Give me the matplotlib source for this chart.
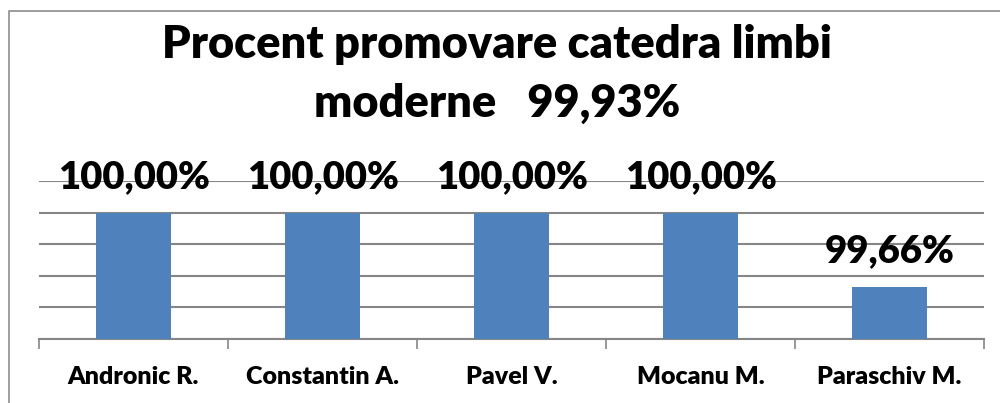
import matplotlib.pyplot as plt
from matplotlib.lines import Line2D

# data
teachers = ['Andronic R.', 'Constantin A.', 'Pavel V.', 'Mocanu M.', 'Paraschiv M.']
percent = [100.00, 100.00, 100.00, 100.00, 99.66]
title_lines = ['Procent promovare catedra limbi', 'moderne   99,93%']

plt.rcParams['font.family'] = ['Lato', 'DejaVu Sans']

dpi = 100
fig = plt.figure(figsize=(1000/dpi, 403/dpi), dpi=dpi)
ax = fig.add_axes([0.039, 0.1596, 0.945, 0.391])

# outer chart frame (only left and top edges visible in the crop)
fig.lines.append(Line2D([0.009, 0.009, 1.0], [0.0, 1 - 11/403, 1 - 11/403],
                        transform=fig.transFigure, color='#8c8c8c', linewidth=1.2))

x = list(range(len(teachers)))
ax.bar(x, percent, width=0.4, color='#4f81bd', zorder=3)

step = 0.145
ax.set_ylim(100 - 4*step, 100 + step)
ax.set_xlim(-0.5, len(teachers) - 0.5)
ax.set_yticks([100 - i*step for i in range(-1, 5)])
ax.yaxis.grid(True, color='#868686', linewidth=1.5, zorder=0)
ax.tick_params(axis='y', length=0, labelleft=False)

ax.set_xticks(x)
ax.set_xticklabels(teachers, fontsize=18, fontweight='heavy')
ax.tick_params(axis='x', which='major', length=0, pad=20)
ax.set_xticks([i - 0.5 for i in range(len(teachers) + 1)], minor=True)
ax.tick_params(axis='x', which='minor', length=7, width=1.2, color='#868686')

for s in ['top', 'right', 'left']:
    ax.spines[s].set_visible(False)
ax.spines['bottom'].set_color('#868686')
ax.spines['bottom'].set_linewidth(1.5)

for xi, v in zip(x, percent):
    ax.annotate(f'{v:.2f}%'.replace('.', ','), (xi, v), xytext=(0, 17.5),
                textcoords='offset points', ha='center', va='baseline',
                fontsize=27.5, fontweight='heavy', zorder=4)

fig.text(0.497, 1 - 58/403, title_lines[0], ha='center', va='baseline',
         fontsize=32.5, fontweight='heavy')
fig.text(0.497, 1 - 117/403, title_lines[1], ha='center', va='baseline',
         fontsize=32.5, fontweight='heavy')

fig.savefig('out.png', dpi=dpi)
